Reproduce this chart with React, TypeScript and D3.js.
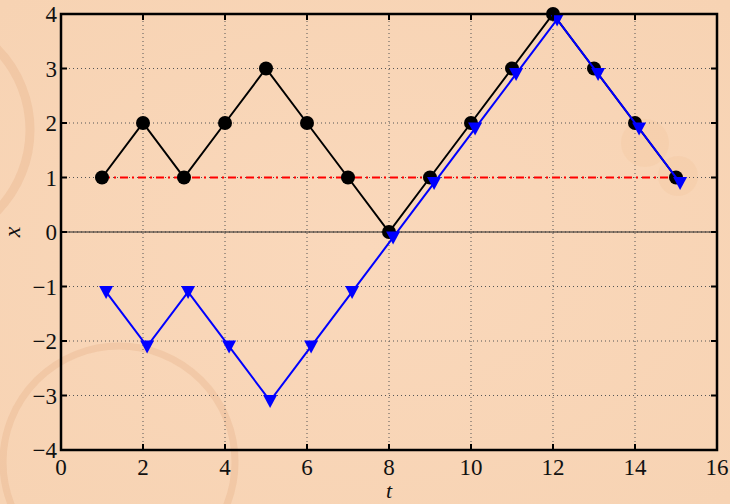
import React, { useEffect } from "react";
import * as d3 from "d3";

const tValues = [1, 2, 3, 4, 5, 6, 7, 8, 9, 10, 11, 12, 13, 14, 15];
const walkValues = [1, 2, 1, 2, 3, 2, 1, 0, 1, 2, 3, 4, 3, 2, 1];
const reflectedValues = [-1, -2, -1, -2, -3, -2, -1, 0, 1, 2, 3, 4, 3, 2, 1];
const levelValue = 1;
const xTicks = [0, 2, 4, 6, 8, 10, 12, 14, 16];
const yTicks = [-4, -3, -2, -1, 0, 1, 2, 3, 4];
const offset = 0.1;

const W = 730;
const H = 504;
const margin = { left: 61, right: 13, top: 14, bottom: 54 };

export default function App() {
  useEffect(() => {
    document.body.style.margin = "0";
  }, []);

  const x = d3.scaleLinear().domain([0, 16]).range([margin.left, W - margin.right]);
  const y = d3.scaleLinear().domain([-4, 4]).range([H - margin.bottom, margin.top]);

  const walk = tValues.map((t, i) => [t, walkValues[i]] as [number, number]);
  const refl = tValues.map((t, i) => [t + offset, reflectedValues[i] - offset] as [number, number]);

  const line = d3
    .line<[number, number]>()
    .x((d) => x(d[0]))
    .y((d) => y(d[1]));

  const fmt = (v: number) => (v < 0 ? "\u2212" + Math.abs(v) : String(v));
  const x0 = x(0), x1 = x(16), y0 = y(-4), y1 = y(4);
  const font = "'Liberation Serif', 'Times New Roman', serif";
  const tri = (cx: number, cy: number) =>
    `M${cx - 7},${cy - 6} L${cx + 7},${cy - 6} L${cx},${cy + 7} Z`;

  return (
    <svg
      width={W}
      height={H}
      style={{ position: "absolute", left: 0, top: 0, display: "block" }}
    >
      <defs>
        <radialGradient id="paper" cx="50%" cy="50%" r="70%">
          <stop offset="0%" stopColor="#fad8bb" />
          <stop offset="100%" stopColor="#f7d3b3" />
        </radialGradient>
      </defs>
      <rect x={0} y={0} width={W} height={H} fill="url(#paper)" />
      {/* coffee stains */}
      <circle cx={-86} cy={130} r={116} fill="none" stroke="#dfa577" strokeOpacity={0.25} strokeWidth={9} />
      <circle cx={119} cy={462} r={116} fill="none" stroke="#dfa577" strokeOpacity={0.25} strokeWidth={7} />
      <circle cx={645} cy={143} r={24} fill="#efbc92" fillOpacity={0.2} />
      <circle cx={678} cy={176} r={20} fill="#efbc92" fillOpacity={0.2} />

      {/* grid */}
      {xTicks.slice(1, -1).map((v) => (
        <line key={"gx" + v} x1={x(v)} x2={x(v)} y1={y0} y2={y1} stroke="#555" strokeWidth={1} strokeDasharray="1,3" />
      ))}
      {yTicks.slice(1, -1).map((v) => (
        <line key={"gy" + v} x1={x0} x2={x1} y1={y(v)} y2={y(v)} stroke="#555" strokeWidth={1} strokeDasharray="1,3" />
      ))}

      {/* zero line */}
      <line x1={x0} x2={x1} y1={y(0)} y2={y(0)} stroke="#222" strokeWidth={1.2} />

      {/* level line */}
      <line
        x1={x(tValues[0])}
        x2={x(tValues[tValues.length - 1])}
        y1={y(levelValue)}
        y2={y(levelValue)}
        stroke="#ff0000"
        strokeWidth={2}
        strokeDasharray="8,4,2,4"
      />

      {/* walk series */}
      <path d={line(walk) || ""} fill="none" stroke="#000" strokeWidth={2} />
      {walk.map((d, i) => (
        <circle key={"c" + i} cx={x(d[0])} cy={y(d[1])} r={7} fill="#000" />
      ))}

      {/* reflected series */}
      <path d={line(refl) || ""} fill="none" stroke="#0000ff" strokeWidth={2} />
      {refl.map((d, i) => (
        <path key={"t" + i} d={tri(x(d[0]), y(d[1]))} fill="#0000ff" />
      ))}

      {/* axes box */}
      <rect x={x0} y={y1} width={x1 - x0} height={y0 - y1} fill="none" stroke="#000" strokeWidth={2.5} />
      {xTicks.slice(1, -1).map((v) => (
        <g key={"tx" + v}>
          <line x1={x(v)} x2={x(v)} y1={y0} y2={y0 - 6} stroke="#000" strokeWidth={2} />
          <line x1={x(v)} x2={x(v)} y1={y1} y2={y1 + 6} stroke="#000" strokeWidth={2} />
        </g>
      ))}
      {yTicks.slice(1, -1).map((v) => (
        <g key={"ty" + v}>
          <line x1={x0} x2={x0 + 6} y1={y(v)} y2={y(v)} stroke="#000" strokeWidth={2} />
          <line x1={x1} x2={x1 - 6} y1={y(v)} y2={y(v)} stroke="#000" strokeWidth={2} />
        </g>
      ))}

      {/* tick labels */}
      {xTicks.map((v) => (
        <text key={"lx" + v} x={x(v)} y={y0 + 25} textAnchor="middle" fontFamily={font} fontSize={23} fill="#111">
          {fmt(v)}
        </text>
      ))}
      {yTicks.map((v) => (
        <text key={"ly" + v} x={x0 - 4} y={y(v) + 8} textAnchor="end" fontFamily={font} fontSize={23} fill="#111">
          {fmt(v)}
        </text>
      ))}

      {/* axis labels */}
      <text x={(x0 + x1) / 2} y={H - 6} textAnchor="middle" fontFamily={font} fontStyle="italic" fontSize={22} fill="#111">
        t
      </text>
      <text
        transform={`translate(20, ${y(0)}) rotate(-90)`}
        textAnchor="middle"
        fontFamily={font}
        fontStyle="italic"
        fontSize={24}
        fill="#111"
      >
        x
      </text>
    </svg>
  );
}
